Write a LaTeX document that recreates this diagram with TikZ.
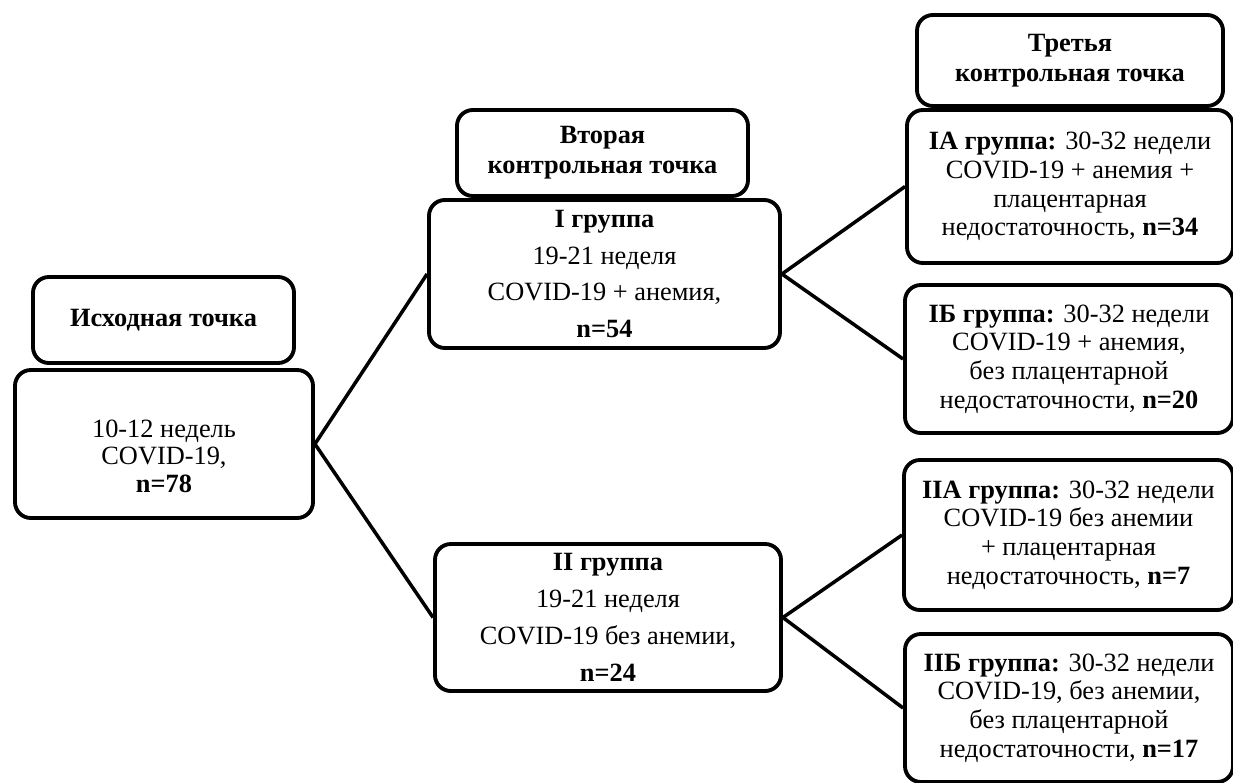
\documentclass[tikz,border=0pt]{standalone}
\usepackage{fontspec}
\setmainfont{Liberation Serif}
\tikzset{
  box/.style={draw, line width=2.2pt, rounded corners=9pt, fill=white, align=center,
    inner sep=2pt, font=\fontsize{15}{16.3}\selectfont},
  headbox/.style={box, font=\fontsize{15}{17}\selectfont\bfseries},
  wide/.style={font=\fontsize{15}{21}\selectfont},
  boxdim/.style 2 args={minimum width=#1*0.02cm, minimum height=#2*0.02cm},
  link/.style={line width=2pt},
}
\begin{document}
\begin{tikzpicture}[x=0.02cm, y=-0.02cm]
  \useasboundingbox (0,0) rectangle (1233,782);
  % Baseline
  \node[headbox, boxdim={261}{86}] (head0) at (163.5,320) {Исходная точка};
  \node[box, boxdim={298}{148}, font=\fontsize{15}{15.6}\selectfont] (start) at (164,444)
    {\raisebox{0pt}{}\\[8pt]10-12 недель\\COVID-19,\\\textbf{n=78}};
  % Second checkpoint
  \node[headbox, boxdim={291}{86}] (head1) at (602.5,153) {Вторая\\контрольная точка};
  \node[box, wide, boxdim={351}{148}] (grI) at (604.5,274)
    {\textbf{I группа}\\19-21 неделя\\COVID-19 + анемия,\\\textbf{n=54}};
  \node[box, wide, boxdim={346}{147}] (grII) at (608,617.5)
    {\textbf{II группа}\\19-21 неделя\\COVID-19 без анемии,\\\textbf{n=24}};
  % Third checkpoint
  \node[headbox, boxdim={306}{91}] (head2) at (1070,60.5) {Третья\\контрольная точка};
  \node[box, boxdim={326}{153}] (grIA) at (1070,186.5)
    {\textbf{IА группа:} 30-32 недели\\COVID-19 + анемия +\\плацентарная\\недостаточность, \textbf{n=34}};
  \node[box, boxdim={328}{148}] (grIB) at (1069,359)
    {\textbf{IБ группа:} 30-32 недели\\COVID-19 + анемия,\\без плацентарной\\недостаточности, \textbf{n=20}};
  \node[box, boxdim={329}{150}] (grIIA) at (1068.5,535)
    {\textbf{IIА группа:} 30-32 недели\\COVID-19 без анемии\\+ плацентарная\\недостаточность, \textbf{n=7}};
  \node[box, boxdim={328}{148}] (grIIB) at (1069,708)
    {\textbf{IIБ группа:} 30-32 недели\\COVID-19, без анемии,\\без плацентарной\\недостаточности, \textbf{n=17}};
  % Connectors
  \draw[link] (start.east) -- (grI.west);
  \draw[link] (start.east) -- (grII.west);
  \draw[link] (grI.east) -- (grIA.west);
  \draw[link] (grI.east) -- (grIB.west);
  \draw[link] (grII.east) -- (grIIA.west);
  \draw[link] (grII.east) -- (grIIB.west);
\end{tikzpicture}
\end{document}
